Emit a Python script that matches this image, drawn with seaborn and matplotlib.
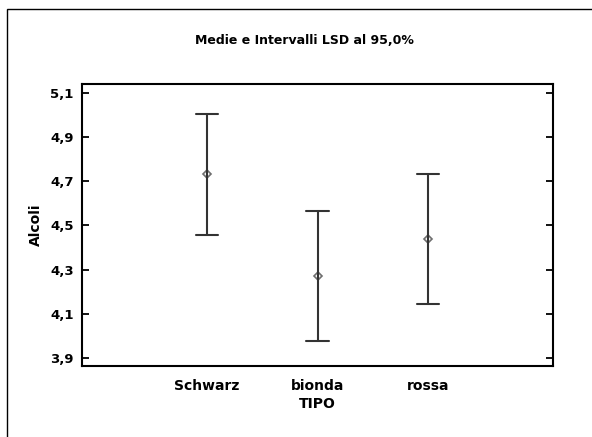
import matplotlib
matplotlib.use("Agg")
import matplotlib.pyplot as plt
from matplotlib.patches import Rectangle
import numpy as np
import pandas as pd
import seaborn as sns

# Means and LSD 95% interval bounds of alcohol content by beer type
categories = ["Schwarz", "bionda", "rossa"]
means = [4.73, 4.27, 4.44]
lower = [4.455, 3.978, 4.144]
upper = [5.005, 4.565, 4.732]
yticks = [3.9, 4.1, 4.3, 4.5, 4.7, 4.9, 5.1]
ytick_labels = ["3,9", "4,1", "4,3", "4,5", "4,7", "4,9", "5,1"]

# Long table: each type contributes its lower bound, mean and upper bound
rows = []
for c, lo, m, hi in zip(categories, lower, means, upper):
    for v in (lo, m, hi):
        rows.append({"TIPO": c, "Alcoli": v})
df = pd.DataFrame(rows)

sns.set_theme(style="white")
plt.rcParams["font.family"] = ["DejaVu Sans"]
plt.rcParams["font.weight"] = "bold"
plt.rcParams["text.color"] = "black"
plt.rcParams["axes.labelcolor"] = "black"
plt.rcParams["xtick.color"] = "black"
plt.rcParams["ytick.color"] = "black"

fig = plt.figure(figsize=(5.92, 4.37), dpi=100)
ax = fig.add_axes([82 / 592, 1 - 366 / 437, 471 / 592, 282 / 437])

sns.pointplot(
    data=df, x="TIPO", y="Alcoli", order=categories,
    estimator="median", errorbar=("pi", 100),
    linestyle="none", marker="D", markersize=3.8,
    markerfacecolor="white", markeredgecolor="#6e6e6e", markeredgewidth=1.2,
    color="#333333", capsize=0.2,
    err_kws={"color": "#333333", "linewidth": 1.5},
    ax=ax,
)

ax.set_xlim(-1.13, 3.13)
ax.set_ylim(3.864, 5.139)
ax.set_yticks(yticks)
ax.set_yticklabels(ytick_labels, fontsize=9.5, fontweight="bold")
ax.set_xticks(range(len(categories)))
ax.set_xticklabels(categories, fontsize=10, fontweight="bold")
ax.tick_params(axis="y", which="both", direction="in", length=5, width=1.3,
               left=True, right=True, color="black", labelcolor="black", pad=6)
ax.tick_params(axis="x", length=0, pad=9, labelcolor="black")
for s in ax.spines.values():
    s.set_visible(True)
    s.set_color("black")
    s.set_linewidth(1.5)

ax.set_xlabel("TIPO", fontsize=10, fontweight="bold", labelpad=3, color="black")
ax.set_ylabel("Alcoli", fontsize=10, fontweight="bold", labelpad=5, color="black")

fig.text(304 / 592, 1 - 40 / 437, "Medie e Intervalli LSD al 95,0%",
         ha="center", va="center", fontsize=9, fontweight="bold", color="black")

# Outer frame around the chart
fig.add_artist(Rectangle((7 / 592, -0.1), 1.2, 1 - 9 / 437 + 0.1,
                         transform=fig.transFigure, fill=False,
                         edgecolor="black", linewidth=1.0))

fig.savefig("out.png", dpi=100)
